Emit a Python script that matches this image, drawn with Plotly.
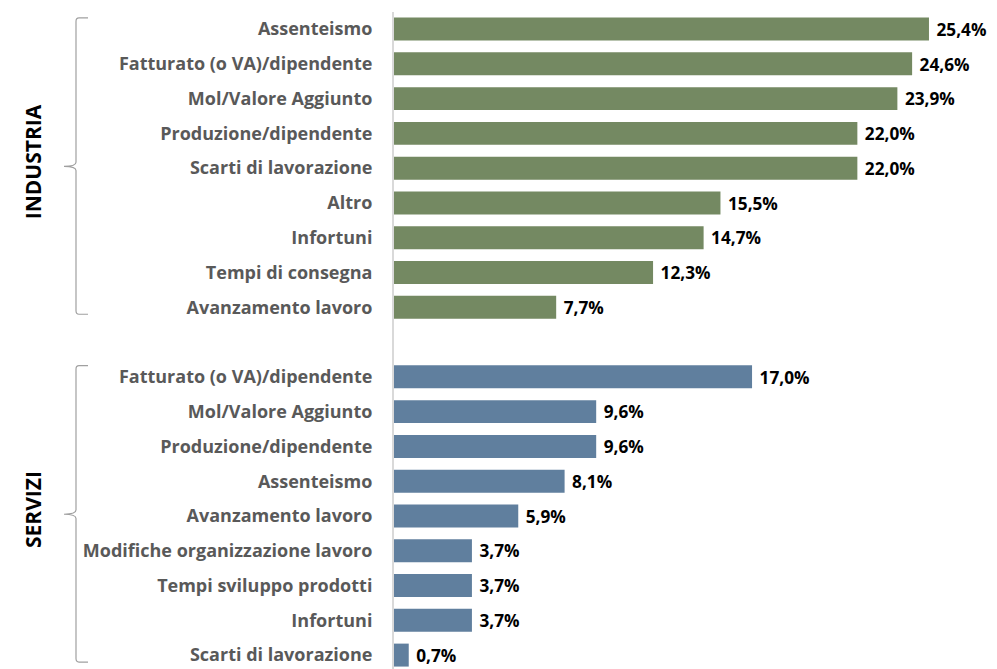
import plotly.graph_objects as go

# Dati
industria_labels = ['Assenteismo', 'Fatturato (o VA)/dipendente', 'Mol/Valore Aggiunto',
                    'Produzione/dipendente', 'Scarti di lavorazione', 'Altro', 'Infortuni',
                    'Tempi di consegna', 'Avanzamento lavoro']
industria_values = [25.4, 24.6, 23.9, 22.0, 22.0, 15.5, 14.7, 12.3, 7.7]

servizi_labels = ['Fatturato (o VA)/dipendente', 'Mol/Valore Aggiunto', 'Produzione/dipendente',
                  'Assenteismo', 'Avanzamento lavoro', 'Modifiche organizzazione lavoro',
                  'Tempi sviluppo prodotti', 'Infortuni', 'Scarti di lavorazione']
servizi_values = [17.0, 9.6, 9.6, 8.1, 5.9, 3.7, 3.7, 3.7, 0.7]

group_names = ['INDUSTRIA', 'SERVIZI']

COLORS = {'industria': '#748962', 'servizi': '#607f9e', 'label': '#595959', 'brace': '#a0a0a0'}
FONT = 'Open Sans'

W, H = 997, 669
L, R, T, B = 394, 0, 12, 0
X_MAX = 28.63

# posizioni: riga vuota tra i due gruppi
y_ind = list(range(len(industria_labels)))
y_ser = [len(industria_labels) + 1 + i for i in range(len(servizi_labels))]


def fmt(v):
    return f'{v:.1f}%'.replace('.', ',')


fig = go.Figure()
for name, ys, vals, col in [('industria', y_ind, industria_values, COLORS['industria']),
                            ('servizi', y_ser, servizi_values, COLORS['servizi'])]:
    fig.add_trace(go.Bar(
        x=vals, y=ys, orientation='h',
        marker=dict(color=col, line=dict(width=0)),
        width=0.66,
        text=[f'&nbsp;<b>{fmt(v)}</b>' for v in vals],
        textposition='outside',
        textfont=dict(family=FONT, size=18, color='black'),
        cliponaxis=False,
        showlegend=False,
        hoverinfo='skip',
    ))


def px_to_paper(px):
    return (px - L) / (W - L - R)


def brace(y0, y1, ym):
    """parentesi graffa sinistra, x in paper, y in coordinate dati"""
    xv = px_to_paper(76)
    xt = px_to_paper(88)
    xm = px_to_paper(64)
    return (f'M {xt} {y0} L {px_to_paper(79)} {y0} Q {xv} {y0} {xv} {y0 + 0.1} '
            f'L {xv} {ym - 0.12} Q {xv} {ym} {xm} {ym} Q {xv} {ym} {xv} {ym + 0.12} '
            f'L {xv} {y1 - 0.1} Q {xv} {y1} {px_to_paper(79)} {y1} L {xt} {y1}')


for ys, name in [(y_ind, group_names[0]), (y_ser, group_names[1])]:
    y0, y1 = ys[0] - 0.32, ys[-1] + 0.2
    ym = (ys[0] + ys[-1]) / 2 - 0.05
    fig.add_shape(type='path', path=brace(y0, y1, ym), xref='paper', yref='y',
                  line=dict(color=COLORS['brace'], width=1.2))
    fig.add_annotation(x=px_to_paper(33), y=ym - 0.15, xref='paper', yref='y',
                       xanchor='center', yanchor='middle',
                       text=f'<b>{name}</b>', textangle=-90, showarrow=False,
                       font=dict(family=FONT, size=21, color='black'))

fig.update_layout(
    width=W, height=H,
    margin=dict(l=L, r=R, t=T, b=B, autoexpand=False),
    plot_bgcolor='white', paper_bgcolor='white',
    bargap=0.34,
)
fig.update_xaxes(range=[0, X_MAX], visible=False, showgrid=False, zeroline=False,
                 automargin=False)
fig.update_yaxes(
    tickvals=y_ind + y_ser,
    ticktext=[f'<b>{t}</b>' for t in industria_labels + servizi_labels],
    tickfont=dict(family=FONT, size=18, color=COLORS['label']),
    range=[18.4, -0.49],
    showgrid=False, zeroline=False,
    showline=True, linecolor='#d9d9d9', linewidth=2,
    ticks='', ticklabelstandoff=16, automargin=False,
)

fig.write_html('out.html', config={'displayModeBar': False},
               post_script="document.body.style.margin='0';")
